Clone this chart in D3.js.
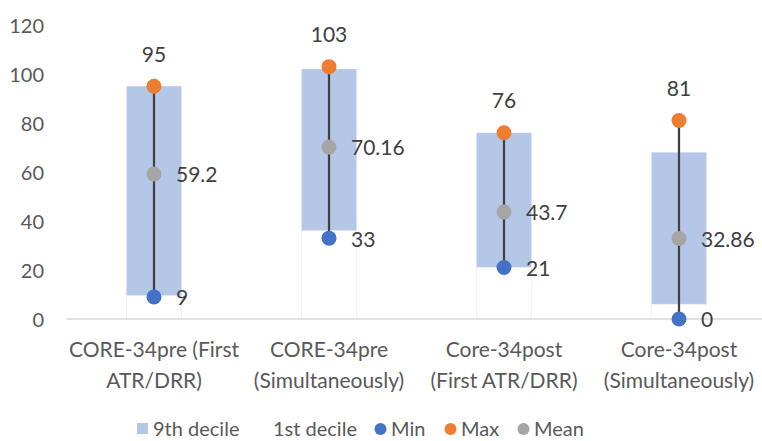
<!DOCTYPE html>
<html>
<head>
<meta charset="utf-8">
<script src="https://cdn.jsdelivr.net/npm/d3@7"></script>
<style>
  body { margin: 0; background: #fff; }
  svg text { font-family: Lato, "Open Sans", sans-serif; fill: #595959; }
</style>
</head>
<body>
<svg id="chart" width="762" height="441"></svg>
<script>
// donnees
var categories = ["CORE-34pre (First\nATR/DRR)", "CORE-34pre\n(Simultaneously)", "Core-34post\n(First ATR/DRR)", "Core-34post\n(Simultaneously)"];
var decile9 = [95, 102, 76, 68];
var decile1 = [9.5, 36, 21, 6];
var minVals = [9, 33, 21, 0];
var maxVals = [95, 103, 76, 81];
var meanVals = [59.2, 70.16, 43.7, 32.86];
var yTicks = [0, 20, 40, 60, 80, 100, 120];

var colors = { d9: "#B4C7E7", min: "#4472C4", max: "#ED7D31", mean: "#A5A5A5" };

var svg = d3.select("#chart");

var x = d3.scaleBand().domain(categories).range([66.5, 766.5]).paddingInner(0.686).paddingOuter(0.343);
var y = d3.scaleLinear().domain([0, 120]).range([319, 25]);

function cx(i) { return x(categories[i]) + x.bandwidth() / 2; }

// axe Y (labels seuls)
var yAxis = d3.axisLeft(y).tickValues(yTicks).tickSize(0).tickPadding(0);
var gy = svg.append("g").attr("transform", "translate(44,0)").call(yAxis);
gy.select(".domain").remove();
gy.selectAll("text").style("font-size", "20px").style("font-family", "Lato").attr("fill", "#595959").attr("dy", "0.35em");

// barres 9e decile
svg.append("g").selectAll("rect")
  .data(decile9)
  .enter().append("rect")
  .attr("x", (d, i) => x(categories[i]))
  .attr("width", x.bandwidth())
  .attr("y", d => y(d))
  .attr("height", d => y(0) - y(d))
  .style("fill", colors.d9);

// barres 1er decile (blanches)
svg.append("g").selectAll("rect")
  .data(decile1)
  .enter().append("rect")
  .attr("x", (d, i) => x(categories[i]))
  .attr("width", x.bandwidth())
  .attr("y", d => y(d))
  .attr("height", d => y(0) - y(d))
  .style("fill", "#fff")
  .style("stroke", "#F2F2F2")
  .style("stroke-width", 0.75);

// axe X
svg.append("line")
  .attr("x1", 66.5).attr("x2", 762)
  .attr("y1", y(0)).attr("y2", y(0))
  .style("stroke", "#D9D9D9").style("stroke-width", 1.5);

// lignes min-max
svg.append("g").selectAll("line")
  .data(categories)
  .enter().append("line")
  .attr("x1", (d, i) => cx(i)).attr("x2", (d, i) => cx(i))
  .attr("y1", (d, i) => y(minVals[i])).attr("y2", (d, i) => y(maxVals[i]))
  .style("stroke", "#404040").style("stroke-width", 2.25);

// points
function drawPoints(vals, color, labelPos) {
  var g = svg.append("g");
  g.selectAll("circle")
    .data(vals)
    .enter().append("circle")
    .attr("cx", (d, i) => cx(i))
    .attr("cy", d => y(d))
    .attr("r", 7.5)
    .style("fill", color);
  g.selectAll("text")
    .data(vals)
    .enter().append("text")
    .attr("x", (d, i) => labelPos == "top" ? cx(i) : cx(i) + 22)
    .attr("y", d => labelPos == "top" ? y(d) - 32 : y(d) + 1)
    .attr("dy", "0.35em")
    .attr("text-anchor", labelPos == "top" ? "middle" : "start")
    .style("font-size", "21px")
    .style("fill", "#404040")
    .text(d => d);
}
drawPoints(minVals, colors.min, "right");
drawPoints(maxVals, colors.max, "top");
drawPoints(meanVals, colors.mean, "right");

// libelles categories
var catG = svg.append("g");
categories.forEach(function(c, i) {
  var t = catG.append("text")
    .attr("text-anchor", "middle")
    .style("font-size", "21px");
  c.split("\n").forEach(function(line, j) {
    t.append("tspan").attr("x", cx(i)).attr("y", 357 + j * 31).text(line);
  });
});

// legende
var legend = svg.append("g").attr("transform", "translate(0,429)");
var legendItems = [
  { lib: "9th decile", type: "rect", color: colors.d9, x: 137 },
  { lib: "1st decile", type: "none", color: "none", x: 257 },
  { lib: "Min", type: "circle", color: colors.min, x: 375 },
  { lib: "Max", type: "circle", color: colors.max, x: 445 },
  { lib: "Mean", type: "circle", color: colors.mean, x: 518 }
];
legendItems.forEach(function(it) {
  if (it.type == "rect") {
    legend.append("rect").attr("x", it.x).attr("y", -6).attr("width", 11).attr("height", 11).style("fill", it.color);
  } else if (it.type == "circle") {
    legend.append("circle").attr("cx", it.x + 5.5).attr("cy", 0).attr("r", 6).style("fill", it.color);
  }
  legend.append("text")
    .attr("x", it.x + 16)
    .attr("y", 0)
    .attr("dy", "0.35em")
    .style("font-size", "20px")
    .text(it.lib);
});
</script>
</body>
</html>
